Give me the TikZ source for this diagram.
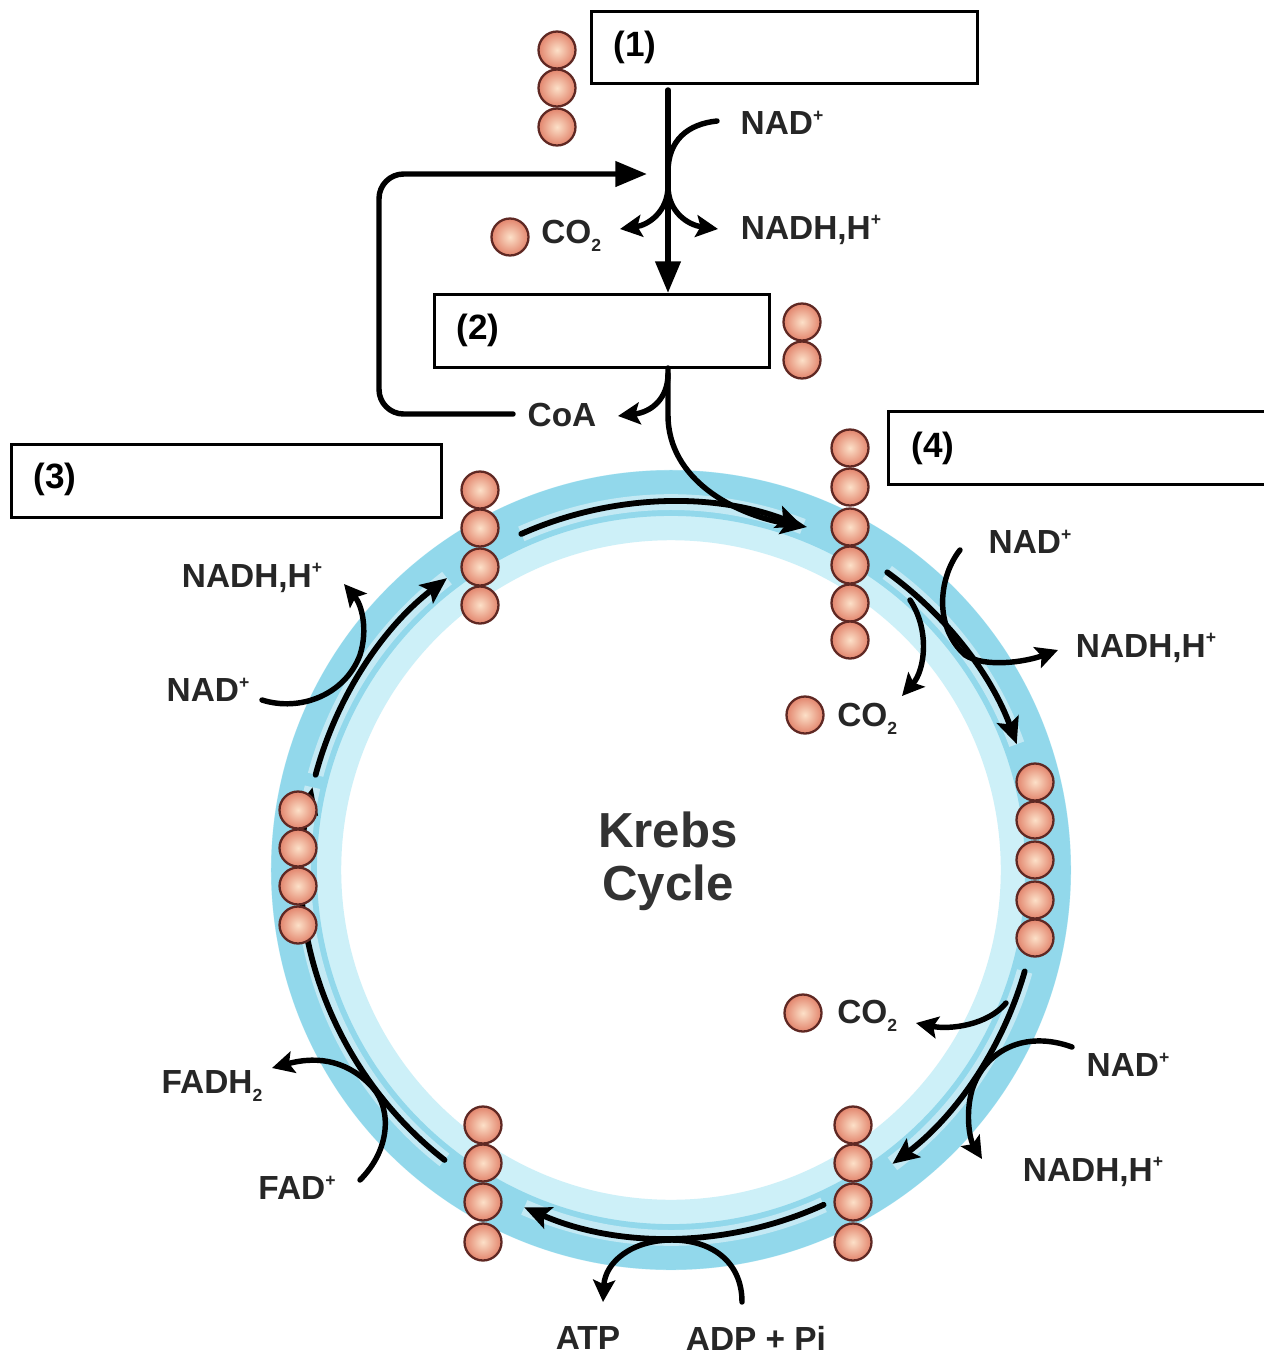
\documentclass[tikz,border=0pt]{standalone}
\usepackage{fontspec}
\setmainfont{Liberation Sans}
\usetikzlibrary{arrows.meta,calc}
\definecolor{ringout}{RGB}{146,216,235}
\definecolor{ringin}{RGB}{205,240,248}
\definecolor{beadin}{RGB}{252,224,200}
\definecolor{beadout}{RGB}{226,132,108}
\definecolor{beadline}{RGB}{95,40,35}
\definecolor{txt}{RGB}{38,38,38}
\newcommand{\sps}{\raisebox{0.75ex}{\fontsize{10}{10}\selectfont +}}
\newcommand{\sbt}{\raisebox{-0.45ex}{\fontsize{10}{10}\selectfont 2}}
\begin{document}
\begin{tikzpicture}[x=0.02cm, y=-0.02cm,
  bead/.style={circle, draw=beadline, line width=1.3pt, inner color=beadin, outer color=beadout, minimum size=0.74cm, inner sep=0pt},
  lbl/.style={font=\fontsize{19}{22}\selectfont\bfseries, text=txt, inner sep=0pt},
  numlbl/.style={font=\fontsize{20}{24}\selectfont\bfseries, text=black, inner sep=0pt, anchor=west},
  box/.style={draw=black, line width=1.7pt, fill=white, inner sep=0pt, anchor=north west, minimum height=1.45cm},
  arr/.style={draw=black, line width=3.1pt, line cap=round},
  bigtip/.style={-{Triangle[length=18pt,width=14pt]}},
  midtip/.style={-{Stealth[length=15pt,width=13pt,inset=3pt]}},
  smalltip/.style={-{Stealth[length=12.5pt,width=12.5pt,inset=2.5pt]}},
  ringarr/.style={arr, line width=3.3pt, midtip, preaction={draw=white, line width=9pt, opacity=0.45, -}}
]
\useasboundingbox (0,0) rectangle (1264,1356);
\fill[white] (0,0) rectangle (1264,1356);
\clip (0,0) rectangle (1264,1356);

% ring
\coordinate (C) at (671,870);
\draw[ringin, line width=40pt] (C) circle[radius=7.3cm];
\draw[ringout, line width=26pt] (C) circle[radius=7.54cm];

% ring arrows
\draw[ringarr] (C) ++(114:7.36cm) arc[start angle=114, end angle=69, radius=7.36cm];
\draw[ringarr] (C) ++(54:7.36cm) arc[start angle=54, end angle=20, radius=7.36cm];
\draw[ringarr] (C) ++(-16:7.36cm) arc[start angle=-16, end angle=-53, radius=7.36cm];
\draw[ringarr] (C) ++(-65.5:7.36cm) arc[start angle=-65.5, end angle=-113.5, radius=7.36cm];
\draw[ringarr] (C) ++(-128:7.36cm) arc[start angle=-128, end angle=-193, radius=7.36cm];
\draw[ringarr] (C) ++(165:7.36cm) arc[start angle=165, end angle=127.5, radius=7.36cm];

% boxes
\node[box, minimum width=7.72cm, minimum height=1.44cm] (b1) at (590,10) {};
\node[box, minimum width=6.70cm, minimum height=1.46cm] (b2) at (433,293) {};
\node[box, minimum width=8.60cm, minimum height=1.46cm] (b3) at (10,443) {};
\node[box, minimum width=8.20cm, minimum height=1.46cm] (b4) at (887,410) {};
\node[numlbl] (l1) at (613,47) {(1)};
\node[numlbl] (l2) at (456,330) {(2)};
\node[numlbl] (l3) at (33,479) {(3)};
\node[numlbl] (l4) at (911,448) {(4)};

% top pathway
\coordinate (v0) at (668,90);
\coordinate (v1) at (668,368);
\coordinate (nadAs) at (717,121);
\coordinate (split) at (668,186);
\draw[arr, bigtip] (v0) -- (v0 |- b2.north);
\draw[arr] (nadAs) .. controls (688,124) and (668,140) .. (668,172);
\draw[arr, smalltip] (split) .. controls (668,212) and (648,225) .. (620,229);
\draw[arr, smalltip] (split) .. controls (668,212) and (688,225) .. (718,229);
\draw[arr, bigtip, rounded corners=14pt] (513,414) -- (379,414) -- (379,174) -- (647,174);
\draw[arr, midtip] (v1) -- (668,415) .. controls (668,480) and (735,515) .. (807,527);
\draw[arr, smalltip] (668,374) .. controls (668,398) and (652,412) .. (618,416);

% side reactions
\draw[arr, smalltip] (960,550) .. controls (940,575) and (932,625) .. (965,655) .. controls (985,668) and (1025,662) .. (1058,650);
\draw[arr, smalltip] (910,600) .. controls (930,630) and (925,670) .. (902,696);
\draw[arr, smalltip] (1006,1003) .. controls (988,1025) and (950,1030) .. (916,1023);
\draw[arr, smalltip] (1072,1047) .. controls (1025,1030) and (985,1050) .. (972,1090) .. controls (965,1115) and (970,1140) .. (982,1159);
\draw[arr, smalltip] (742,1302) .. controls (742,1262) and (712,1240) .. (672,1240) .. controls (632,1240) and (605,1262) .. (603,1302);
\draw[arr, smalltip] (360,1180) .. controls (390,1150) and (392,1110) .. (373,1088) .. controls (350,1062) and (320,1055) .. (272,1068);
\draw[arr, smalltip] (262,700) .. controls (300,712) and (345,695) .. (360,655) .. controls (368,630) and (362,605) .. (344,584);

% beads
\foreach \yy [count=\i] in {50,88,127} {\node[bead] (ga\i) at (557,\yy) {};}
\foreach \yy [count=\i] in {322,360} {\node[bead] (gb\i) at (802,\yy) {};}
\foreach \yy [count=\i] in {490,528,567,605} {\node[bead] (gc\i) at (480,\yy) {};}
\foreach \yy [count=\i] in {448,487,527,565,603,640} {\node[bead] (gd\i) at (850,\yy) {};}
\foreach \yy [count=\i] in {782,820,860,900,938} {\node[bead] (ge\i) at (1035,\yy) {};}
\foreach \yy [count=\i] in {1125,1163,1202,1242} {\node[bead] (gf\i) at (853,\yy) {};}
\foreach \yy [count=\i] in {1125,1163,1202,1242} {\node[bead] (gg\i) at (483,\yy) {};}
\foreach \yy [count=\i] in {810,848,886,925} {\node[bead] (gh\i) at (298,\yy) {};}
\node[bead] (co2beadA) at (510,237) {};
\node[bead] (co2beadB) at (805,715) {};
\node[bead] (co2beadC) at (803,1013) {};

% labels
\node[lbl] (nadA) at (782,123) {NAD\sps};
\node[lbl] (nadhA) at (811,230) {NADH,H\sps};
\node[lbl, anchor=west] (co2A) at (541,236) {CO\sbt};
\node[lbl] (coa) at (562,415) {CoA};
\node[lbl] (nadB) at (1030,542) {NAD\sps};
\node[lbl] (nadhB) at (1146,648) {NADH,H\sps};
\node[lbl, anchor=west] (co2B) at (837,719) {CO\sbt};
\node[lbl, anchor=west] (co2C) at (837,1016) {CO\sbt};
\node[lbl] (nadC) at (1128,1065) {NAD\sps};
\node[lbl] (nadhC) at (1093,1172) {NADH,H\sps};
\node[lbl] (atp) at (588,1338) {ATP};
\node[lbl] (adp) at (756,1338) {ADP + Pi};
\node[lbl] (fadh) at (212,1086) {FADH\sbt};
\node[lbl] (fad) at (297,1188) {FAD\sps};
\node[lbl] (nadD) at (208,690) {NAD\sps};
\node[lbl] (nadhD) at (252,578) {NADH,H\sps};
\node[font=\fontsize{28}{32}\selectfont\bfseries, text={rgb,255:red,50;green,50;blue,50}, align=center, inner sep=0pt] (krebs) at (668,861) {Krebs\\[-2pt]Cycle};
\end{tikzpicture}
\end{document}
